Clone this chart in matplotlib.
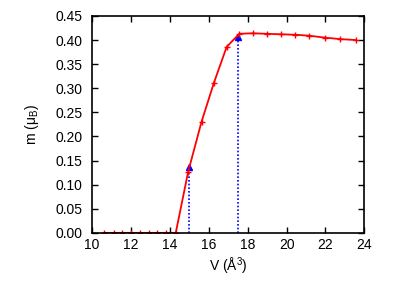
import numpy as np
import matplotlib
matplotlib.use('Agg')
import matplotlib.pyplot as plt

plt.rcParams['font.family'] = ['Liberation Sans', 'DejaVu Sans']
plt.rcParams['mathtext.fontset'] = 'custom'
plt.rcParams['mathtext.rm'] = 'Liberation Sans'
plt.rcParams['mathtext.it'] = 'Liberation Sans:italic'

# volume (A^3) e momento magnetico (mu_B)
volume = [10.6, 11.1, 11.55, 12.0, 12.45, 12.9, 13.35, 13.8, 14.3,
          14.94, 15.63, 16.26, 16.92, 17.57, 18.25, 18.97, 19.69,
          20.43, 21.17, 21.98, 22.75, 23.56]
moment = [0.0, 0.0, 0.0, 0.0, 0.0, 0.0, 0.0, 0.0, 0.0,
          0.127, 0.231, 0.311, 0.386, 0.413, 0.414, 0.413, 0.412,
          0.411, 0.409, 0.405, 0.402, 0.400]

# punti di transizione (triangoli blu)
v_trans = [15.0, 17.5]
m_trans = [0.137, 0.406]

fig = plt.figure(figsize=(4.15, 2.9), dpi=100)
ax = fig.add_axes([0.222, 0.197, 0.656, 0.748])

for v, m in zip(v_trans, m_trans):
    ax.plot([v, v], [0, m], color='blue', linestyle=(0, (1, 1.2)), lw=1.2)
ax.plot(v_trans, m_trans, linestyle='none', marker='^', color='blue', markersize=4)
ax.plot(volume, moment, color='red', lw=1.3, marker='+', markersize=4, mew=1.0)

ax.set_xlim(10, 24)
ax.set_ylim(0, 0.45)
ax.set_xticks(np.arange(10, 25, 2))
ax.set_yticks(np.arange(0, 0.46, 0.05))
ax.yaxis.set_major_formatter(matplotlib.ticker.FormatStrFormatter('%.2f'))
ax.tick_params(direction='in', top=True, right=True, labelsize=10, length=4, width=1)
ax.tick_params(axis='y', pad=7)
for s in ax.spines.values():
    s.set_linewidth(1.2)

ax.set_xlabel(r'V ($\mathrm{\AA}^3$)', fontsize=10, labelpad=3)
ax.set_ylabel(r'm (μ$_{\mathrm{B}}$)', fontsize=10, labelpad=10)

fig.savefig('out.png', dpi=100)
